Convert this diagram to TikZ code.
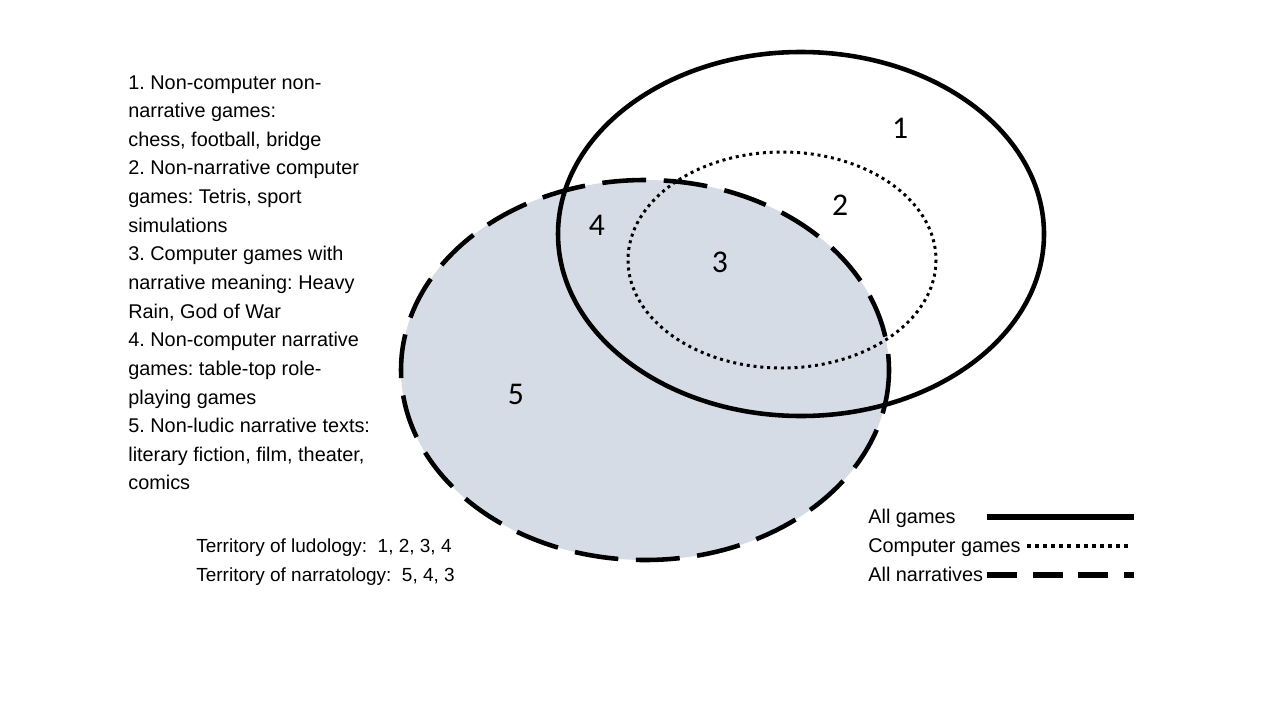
\documentclass[tikz,border=0pt]{standalone}
\usepackage{fontspec}
\setmainfont{Liberation Sans}
\newfontfamily\numfont{Carlito}
\usetikzlibrary{calc}
\definecolor{narrfill}{RGB}{214,220,229}
\frenchspacing

\tikzset{
  allgames/.style={line width=2.6pt},
  compgames/.style={line width=1.7pt, dash pattern=on 1.7pt off 2.2pt},
  allnarr/.style={line width=2.6pt, dash pattern=on 25pt off 10pt},
  keygames/.style={line width=3.2pt},
  keycomp/.style={line width=2.3pt, dash pattern=on 2.3pt off 2.3pt},
  keynarr/.style={line width=3.2pt, dash pattern=on 17pt off 9pt},
  region/.style={font=\numfont\fontsize{18}{20}\selectfont, inner sep=0pt},
  txt/.style={font=\fontsize{11.3}{16.3}\selectfont, inner sep=0pt},
  terr/.style={font=\fontsize{10.8}{16.3}\selectfont, inner sep=0pt},
}

\begin{document}
\begin{tikzpicture}[x=0.02cm, y=-0.02cm]
  \useasboundingbox (0,0) rectangle (1280,720);

  % the three sets
  \fill[narrfill] (645,370) ellipse [x radius=244, y radius=190];
  \draw[allgames] (801,234) ellipse [x radius=243, y radius=182];
  \draw[compgames] (782,260) ellipse [x radius=154, y radius=108];
  \draw[allnarr] (645,370) ellipse [x radius=244, y radius=190];

  % region numbers
  \node[region] (r1) at (900,128) {1};
  \node[region] (r2) at (840,205) {2};
  \node[region] (r3) at (720,262) {3};
  \node[region] (r4) at (597,225) {4};
  \node[region] (r5) at (516,394) {5};

  % key to the regions
  \node[txt, anchor=north west, align=left] (key) at (128,75) {%
    1. Non-computer non-\\
    narrative games:\\
    chess, football, bridge\\
    2. Non-narrative computer\\
    games: Tetris, sport\\
    simulations\\
    3. Computer games with\\
    narrative meaning: Heavy\\
    Rain, God of War\\
    4. Non-computer narrative\\
    games: table-top role-\\
    playing games\\
    5. Non-ludic narrative texts:\\
    literary fiction, film, theater,\\
    comics};

  \node[terr, anchor=base west] (ludo) at (196,552) {Territory of ludology:~ 1, 2, 3, 4};
  \node[terr, anchor=base west] (narr) at (196,581) {Territory of narratology:~ 5, 4, 3};

  % legend
  \foreach \name/\lbl/\sty/\y/\xs/\xe in {lgames/All games/keygames/523/987/1134,
      lcomp/Computer games/keycomp/552/1027/1130,
      lnarr/All narratives/keynarr/581/987/1134}{
    \node[txt, anchor=base west] (\name) at (868,\y) {\lbl};
    \coordinate (\name-a) at (\xs,\y-6);
    \coordinate (\name-b) at (\xe,\y-6);
    \draw[\sty] (\name-a) -- (\name-b);
  }
\end{tikzpicture}
\end{document}
